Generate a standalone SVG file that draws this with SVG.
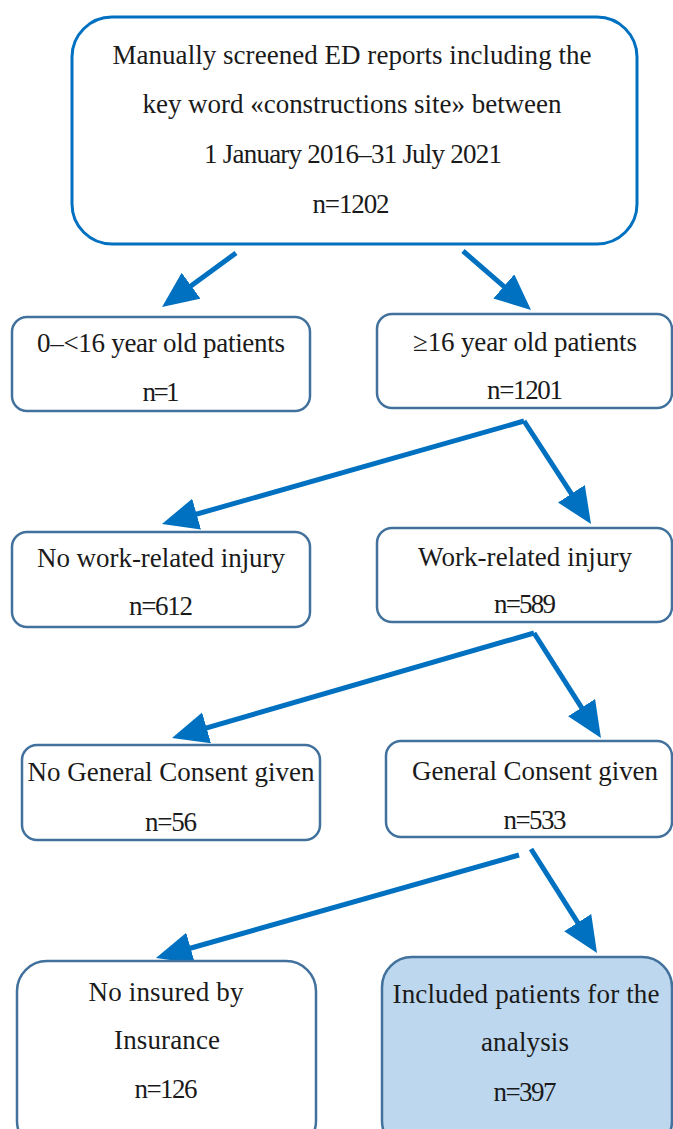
<svg xmlns="http://www.w3.org/2000/svg" width="673" height="1129" viewBox="0 0 673 1129">
<style>
  .box{fill:#ffffff;stroke:#41719C;stroke-width:2.5}
  .top{fill:#ffffff;stroke:#0070C0;stroke-width:3}
  .incl{fill:#BDD7EE;stroke:#41719C;stroke-width:2.5}
  .t{font-family:"Liberation Serif","Times New Roman",serif;font-size:27px;fill:#1a1a1a;text-anchor:middle}
  .arr{stroke:#0070C0;stroke-width:5;fill:none;marker-end:url(#ah)}
</style>
<defs>
  <marker id="ah" markerUnits="userSpaceOnUse" markerWidth="38" markerHeight="34" refX="16" refY="16" orient="auto">
    <path d="M0,0 L36,16 L0,32 z" fill="#0070C0"/>
  </marker>
</defs>
<rect width="673" height="1129" fill="#ffffff"/>
<g id="connectors">
  <line class="arr" x1="236" y1="253" x2="178.2" y2="295.2"/>
  <line class="arr" x1="463" y1="251" x2="515.9" y2="296.9"/>
  <line class="arr" x1="524" y1="421" x2="181.2" y2="518.5"/>
  <line class="arr" x1="524" y1="421" x2="580.1" y2="507.2"/>
  <line class="arr" x1="534" y1="633" x2="191.2" y2="732.4"/>
  <line class="arr" x1="534" y1="633" x2="590.2" y2="721.1"/>
  <line class="arr" x1="519" y1="855" x2="175.2" y2="952.5"/>
  <line class="arr" x1="531" y1="849" x2="586.3" y2="936.1"/>
</g>
<g id="screened">
  <rect class="top" x="72" y="17" width="565" height="227" rx="40"/>
  <text class="t" x="352" y="64" textLength="479">Manually screened ED reports including the</text>
  <text class="t" x="352" y="113" textLength="419">key word «constructions site» between</text>
  <text class="t" x="353" y="163" textLength="298">1 January 2016–31 July 2021</text>
  <text class="t" x="351" y="213" textLength="77">n=1202</text>
</g>
<g id="under16">
  <rect class="box" x="12" y="317" width="298" height="94" rx="15"/>
  <text class="t" x="161" y="352" textLength="248">0–&lt;16 year old patients</text>
  <text class="t" x="161" y="401" textLength="37">n=1</text>
</g>
<g id="over16">
  <rect class="box" x="377" y="314" width="295" height="94" rx="15"/>
  <text class="t" x="525" y="351" textLength="224">≥16 year old patients</text>
  <text class="t" x="525" y="399" textLength="76">n=1201</text>
</g>
<g id="nowork">
  <rect class="box" x="12" y="532" width="298" height="95" rx="15"/>
  <text class="t" x="161" y="567" textLength="248">No work-related injury</text>
  <text class="t" x="161" y="615" textLength="64">n=612</text>
</g>
<g id="work">
  <rect class="box" x="377" y="528" width="295" height="94" rx="15"/>
  <text class="t" x="525" y="566" textLength="214">Work-related injury</text>
  <text class="t" x="525" y="613" textLength="62">n=589</text>
</g>
<g id="noconsent">
  <rect class="box" x="22" y="745" width="298" height="95" rx="15"/>
  <text class="t" x="171" y="781" textLength="287">No General Consent given</text>
  <text class="t" x="171" y="831" textLength="52">n=56</text>
</g>
<g id="consent">
  <rect class="box" x="386" y="741" width="286" height="96" rx="15"/>
  <text class="t" x="535" y="780" textLength="246">General Consent given</text>
  <text class="t" x="535" y="829" textLength="63">n=533</text>
</g>
<g id="noinsured">
  <rect class="box" x="17" y="961" width="299" height="190" rx="30"/>
  <text class="t" x="166" y="1001" textLength="155">No insured by</text>
  <text class="t" x="167" y="1049" textLength="106">Insurance</text>
  <text class="t" x="166" y="1098" textLength="63">n=126</text>
</g>
<g id="included">
  <rect class="incl" x="382" y="957" width="290" height="194" rx="30"/>
  <text class="t" x="526" y="1003" textLength="267">Included patients for the</text>
  <text class="t" x="525" y="1051" textLength="88">analysis</text>
  <text class="t" x="525" y="1101" textLength="63">n=397</text>
</g>
</svg>
